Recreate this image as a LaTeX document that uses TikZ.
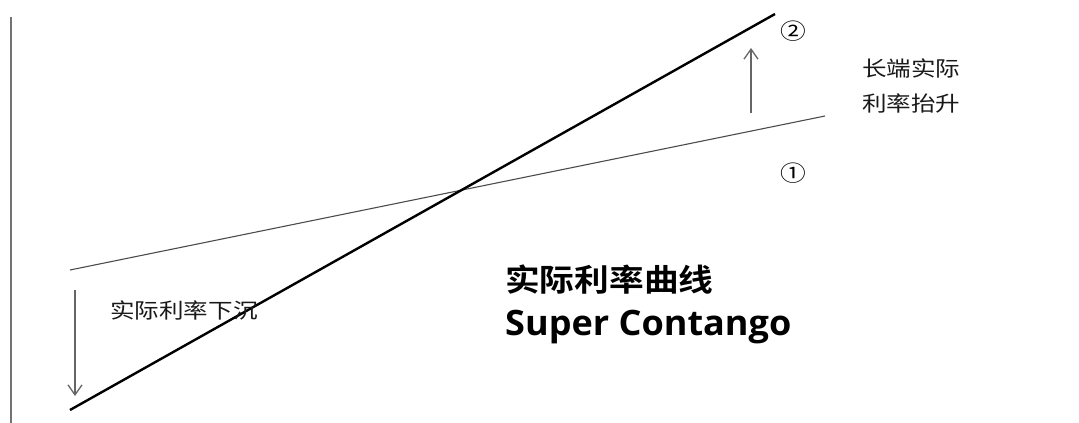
\documentclass[tikz,border=0pt]{standalone}
\usepackage{fontspec}
\setmainfont{Open Sans}
\newfontfamily\cjk[FakeStretch=1.17]{Noto Sans CJK SC}
\newfontfamily\cjkb[FakeStretch=1.12]{Noto Sans CJK SC Bold}
\newfontfamily\engb[FakeStretch=1.03]{Open Sans Bold}
\usetikzlibrary{arrows.meta}
\begin{document}
\begin{tikzpicture}[x=1pt,y=-1pt,
  axisline/.style={draw=black!55,line width=1.6pt},
  thinline/.style={draw=black!70,line width=1.1pt},
  thickline/.style={draw=black,line width=2.4pt},
  shiftarrow/.style={draw=black!60,line width=1.3pt,-{Straight Barb[length=10pt,width=14pt]}},
  smalltxt/.style={font=\cjk\fontsize{21}{24}\selectfont,text=black!90,inner sep=0pt},
  circnum/.style={font=\cjk\fontsize{22}{24}\selectfont,inner sep=0pt},
  bigtxt/.style={font=\cjkb\fontsize{31}{34}\selectfont,inner sep=0pt,anchor=west},
  engtxt/.style={font=\engb\fontsize{35}{38}\selectfont,inner sep=0pt,anchor=west}]
\useasboundingbox (0,0) rectangle (1079,423);
\coordinate (axtop) at (11,17);
\coordinate (axbot) at (11,423);
\draw[axisline] (axtop) -- (axbot);
% curve 1 (thin)
\coordinate (c1a) at (70,270);
\coordinate (c1b) at (825,116);
\draw[thinline] (c1a) -- (c1b);
% curve 2 (thick)
\coordinate (c2a) at (70,410);
\coordinate (c2b) at (775,14);
\draw[thickline] (c2a) -- (c2b);
% arrows
\coordinate (upfrom) at (751,113);
\coordinate (upto) at (751,48);
\draw[shiftarrow] (upfrom) -- (upto);
\coordinate (dnfrom) at (75,290);
\coordinate (dnto) at (75,396);
\draw[shiftarrow] (dnfrom) -- (dnto);
% labels
\node[circnum] (n2) at (793,31) {②};
\node[circnum] (n1) at (793,173) {①};
\node[smalltxt,anchor=west] (up1) at (862,68) {长端实际};
\node[smalltxt,anchor=west] (up2) at (862,103) {利率抬升};
\node[smalltxt,anchor=west] (dn) at (110,310) {实际利率下沉};
\node[bigtxt] (title) at (505,280) {实际利率曲线};
\node[engtxt] (eng) at (505,327) {Super Contango};
\end{tikzpicture}
\end{document}
